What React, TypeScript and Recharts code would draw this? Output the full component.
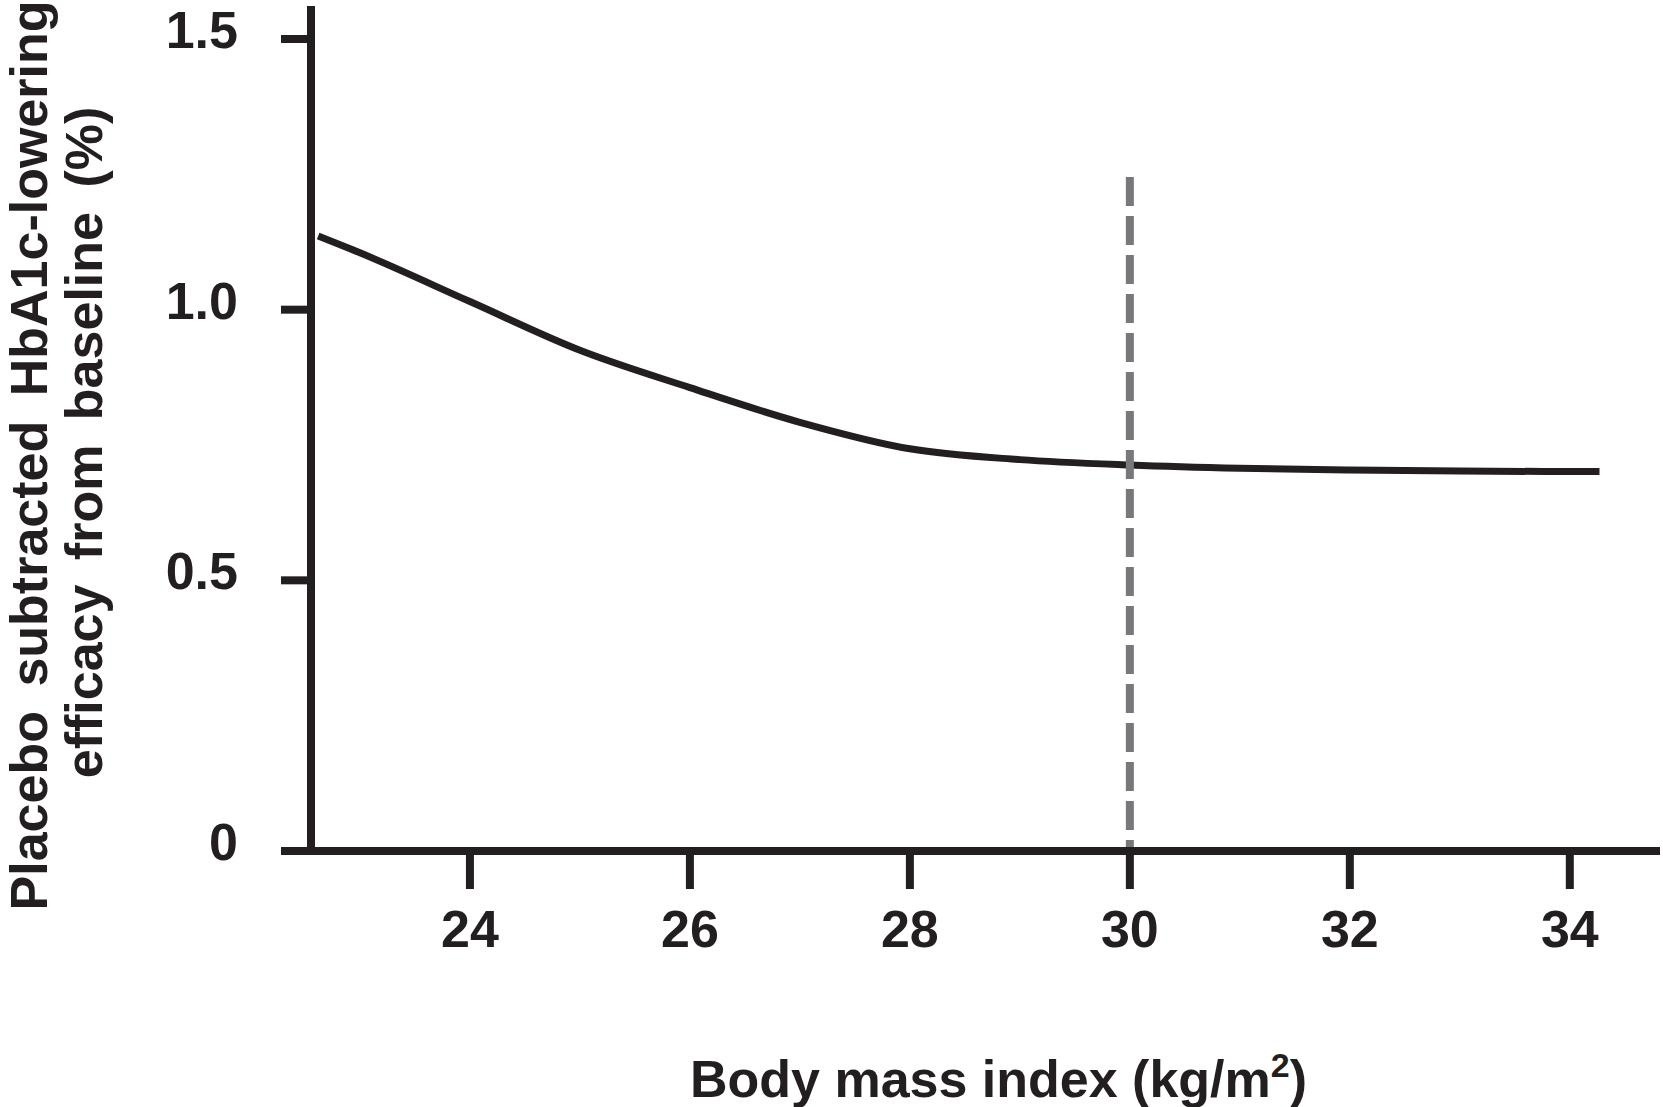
import { LineChart, Line, XAxis, YAxis, ReferenceLine, Label } from 'recharts'

// BMI (kg/m2) sampled along the curve, and the read-off efficacy (%)
const bmi = [22.62, 23, 24, 25, 26, 27, 28, 29, 30, 31, 32, 33, 34, 34.27]
const efficacy = [1.136, 1.105, 1.015, 0.925, 0.856, 0.792, 0.743, 0.723, 0.713, 0.707, 0.704, 0.702, 0.701, 0.701]

const xTicks = [24, 26, 28, 30, 32, 34]
const yTicks = [0, 0.5, 1.0, 1.5]
const cutoffBmi = 30
const cutoffTop = 1.245

const data = bmi.map((b, i) => ({ bmi: b, efficacy: efficacy[i] }))

const INK = '#231f20'
const GREY = '#77787b'
const FONT = '"Liberation Sans", Arial, Helvetica, sans-serif'

function YTick({ x, y, payload }: any) {
  const v = payload.value
  return (
    <text x={x} y={y - 9} textAnchor="end" dominantBaseline="central"
      fontFamily={FONT} fontWeight={700} fontSize={52} fill={INK}>
      {v === 0 ? '0' : v.toFixed(1)}
    </text>
  )
}

function XTick({ x, y, payload }: any) {
  return (
    <text x={x} y={y} dy="0.716em" textAnchor="middle"
      fontFamily={FONT} fontWeight={700} fontSize={52} fill={INK}>
      {payload.value}
    </text>
  )
}

// x-axis title with the superscript 2
function XTitle({ viewBox }: any) {
  const cx = viewBox.x + viewBox.width / 2 + 13
  return (
    <text x={cx} y={1097} textAnchor="middle" fontFamily={FONT} fontWeight={700} fontSize={52} fill={INK}>
      Body mass index (kg/m<tspan fontSize={34} dy={-20}>2</tspan><tspan dy={20}>)</tspan>
    </text>
  )
}

// two-line rotated y-axis title, loosely word-spaced like the original
function YTitle({ viewBox }: any) {
  const mid = viewBox.y + viewBox.height / 2
  const l1 = { x: 47, y: mid + 27 }
  const l2 = { x: 102, y: mid + 14 }
  return (
    <g fontFamily={FONT} fontWeight={700} fontSize={52} fill={INK} wordSpacing={10}>
      <text x={l1.x} y={l1.y} textAnchor="middle" transform={`rotate(-90 ${l1.x} ${l1.y})`}>
        Placebo subtracted HbA1c-lowering
      </text>
      <text x={l2.x} y={l2.y} textAnchor="middle" transform={`rotate(-90 ${l2.x} ${l2.y})`}>
        efficacy from baseline (%)
      </text>
    </g>
  )
}

export default function App() {
  return (
    <div style={{ position: 'absolute', left: 0, top: 0, width: 1663, height: 1107, background: '#fff' }}>
      <LineChart width={1663} height={1107} data={data} margin={{ top: 6, right: 3, bottom: 0, left: 0 }}>
        <XAxis
          type="number"
          dataKey="bmi"
          domain={[22.555, 34.82]}
          ticks={xTicks}
          allowDataOverflow
          height={256}
          axisLine={{ stroke: INK, strokeWidth: 8 }}
          tickLine={{ stroke: INK, strokeWidth: 8 }}
          tickSize={38}
          tickMargin={21}
          tick={<XTick />}
        >
          <Label content={<XTitle />} />
        </XAxis>
        <YAxis
          type="number"
          domain={[0, 1.561]}
          ticks={yTicks}
          allowDataOverflow
          width={311}
          axisLine={{ stroke: INK, strokeWidth: 8 }}
          tickLine={{ stroke: INK, strokeWidth: 8 }}
          tickSize={30}
          tickMargin={43}
          tick={<YTick />}
        >
          <Label content={<YTitle />} />
        </YAxis>

        {/* fitted efficacy curve */}
        <Line type="monotone" dataKey="efficacy" stroke={INK} strokeWidth={7} dot={false} isAnimationActive={false} />

        {/* BMI 30 cut-off */}
        <ReferenceLine
          segment={[{ x: cutoffBmi, y: cutoffTop }, { x: cutoffBmi, y: 0 }]}
          stroke={GREY}
          strokeWidth={8}
          strokeDasharray="29 10"
        />
      </LineChart>
    </div>
  )
}
